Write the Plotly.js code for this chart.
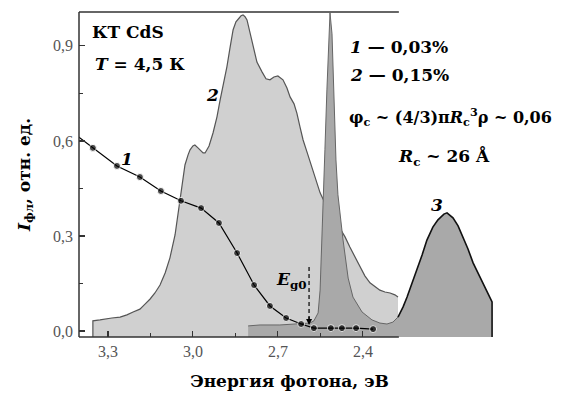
<!DOCTYPE html>
<html>
<head>
<meta charset="utf-8">
<script src="https://cdn.plot.ly/plotly-3.0.1.min.js"></script>
<style>html,body{margin:0;padding:0;background:#fff;}#chart{width:563px;height:396px;}</style>
</head>
<body>
<div id="chart"></div>
<script>
// ---- Data (photon energy, eV ; intensity, arb. units) ----
// Curve 1: 0.03% sample (points)
const energy1 = [3.45, 3.353, 3.268, 3.187, 3.113, 3.042, 2.971, 2.908, 2.844, 2.784, 2.728, 2.671, 2.618, 2.573, 2.513, 2.474, 2.424, 2.364];
const intensity1 = [0.644, 0.578, 0.521, 0.486, 0.442, 0.411, 0.388, 0.341, 0.246, 0.145, 0.079, 0.041, 0.022, 0.009, 0.009, 0.009, 0.009, 0.006];

// Curve 2: 0.15% sample (light filled spectrum)
const energy2 = [3.353, 3.328, 3.310, 3.286, 3.257, 3.233, 3.211, 3.187, 3.169, 3.151, 3.134, 3.116, 3.098, 3.081, 3.063, 3.046, 3.035, 3.028, 3.017, 3.010, 3.000, 2.993, 2.982, 2.975, 2.964, 2.957, 2.943, 2.929, 2.915, 2.904, 2.890, 2.880, 2.869, 2.858, 2.848, 2.841, 2.830, 2.823, 2.816, 2.809, 2.798, 2.788, 2.774, 2.756, 2.742, 2.728, 2.714, 2.700, 2.682, 2.668, 2.657, 2.643, 2.633, 2.622, 2.611, 2.594, 2.580, 2.565, 2.551, 2.534, 2.516, 2.498, 2.481, 2.463, 2.446, 2.428, 2.410, 2.393, 2.375, 2.357, 2.340, 2.322, 2.304, 2.287, 2.276];
const intensity2 = [0.032, 0.035, 0.038, 0.041, 0.044, 0.051, 0.060, 0.069, 0.085, 0.101, 0.120, 0.145, 0.183, 0.231, 0.303, 0.414, 0.483, 0.524, 0.556, 0.572, 0.584, 0.587, 0.578, 0.572, 0.562, 0.562, 0.584, 0.625, 0.676, 0.729, 0.786, 0.834, 0.894, 0.951, 0.976, 0.985, 0.995, 0.998, 0.992, 0.982, 0.941, 0.894, 0.849, 0.818, 0.796, 0.793, 0.802, 0.805, 0.793, 0.767, 0.739, 0.717, 0.688, 0.644, 0.603, 0.556, 0.515, 0.477, 0.436, 0.404, 0.376, 0.351, 0.325, 0.297, 0.265, 0.234, 0.202, 0.174, 0.152, 0.139, 0.129, 0.123, 0.120, 0.114, 0.107];

// Narrow dark peak with its tail
const energyPeak = [2.805, 2.763, 2.693, 2.622, 2.587, 2.573, 2.558, 2.551, 2.544, 2.541, 2.534, 2.527, 2.516, 2.509, 2.502, 2.495, 2.488, 2.481, 2.470, 2.452, 2.435, 2.403, 2.368, 2.340, 2.315, 2.294, 2.276];
const intensityPeak = [0.016, 0.019, 0.019, 0.022, 0.025, 0.032, 0.057, 0.129, 0.287, 0.414, 0.572, 0.761, 1.004, 0.938, 0.698, 0.540, 0.430, 0.366, 0.287, 0.167, 0.107, 0.060, 0.035, 0.025, 0.022, 0.028, 0.044];

// Curve 3
const energy3 = [2.276, 2.258, 2.244, 2.227, 2.209, 2.191, 2.174, 2.153, 2.135, 2.114, 2.103, 2.093, 2.082, 2.064, 2.047, 2.029, 2.011, 1.993, 1.976, 1.958, 1.944];
const intensity3 = [0.044, 0.076, 0.107, 0.148, 0.193, 0.240, 0.287, 0.328, 0.351, 0.369, 0.373, 0.366, 0.357, 0.332, 0.297, 0.259, 0.215, 0.183, 0.152, 0.117, 0.092];

// Axis ticks
const xTickVals = [3.3, 3.0, 2.7, 2.4];
const xMinorVals = [3.15, 2.85, 2.55];
const yTickVals = [0, 0.3, 0.6, 0.9];
const yMinorVals = [0.15, 0.45, 0.75];

// Axis ranges / frame
const X_RANGE = [3.402, 1.916];
const X_FRAME_END = 2.273;
const Y_RANGE = [-0.019, 1.007];
const Y_MIN = Y_RANGE[0];

// Marker: edge point (outside) without marker
const marker1Size = energy1.map((e) => e > X_RANGE[0] ? 0 : 7);

function closed(xs, ys) {
  return {x: [xs[0]].concat(xs, [xs[xs.length - 1]]), y: [Y_MIN].concat(ys, [Y_MIN])};
}

const SERIF = '"DejaVu Serif", "Liberation Serif", serif';
const LIGHT = '#d0d0d0', DARK = '#a9a9a9';

const f2 = closed(energy2, intensity2);
const darkX = energyPeak.concat(energy3.slice(1));
const darkY = intensityPeak.concat(intensity3.slice(1));
const fd = closed(darkX, darkY);

const traces = [
  {x: f2.x, y: f2.y, type: 'scatter', mode: 'lines', fill: 'toself', fillcolor: LIGHT, line: {width: 0}, hoverinfo: 'skip'},
  {x: [energy2[0]].concat(energy2), y: [Y_MIN].concat(intensity2), type: 'scatter', mode: 'lines', line: {color: '#555', width: 1.2}},
  {x: fd.x, y: fd.y, type: 'scatter', mode: 'lines', fill: 'toself', fillcolor: DARK, line: {width: 0}, hoverinfo: 'skip'},
  {x: energyPeak, y: intensityPeak, type: 'scatter', mode: 'lines', line: {color: '#666', width: 1}},
  {x: energy3.concat([energy3[energy3.length - 1]]), y: intensity3.concat([Y_MIN]), type: 'scatter', mode: 'lines', line: {color: '#111', width: 1.6}},
  {x: energy1, y: intensity1, type: 'scatter', mode: 'lines+markers', line: {color: '#000', width: 1.2}, marker: {color: '#000', size: marker1Size}}
];

const ann = (x, y, text, opts) => Object.assign({xref: 'paper', yref: 'paper', x: x, y: y, text: text, showarrow: false,
  xanchor: 'center', yanchor: 'middle',
  font: {family: SERIF, size: 17, color: '#000', weight: 'bold'}}, opts || {});

const layout = {
  width: 563, height: 396,
  margin: {l: 79, r: 63, t: 12, b: 59},
  paper_bgcolor: '#fff', plot_bgcolor: '#fff',
  showlegend: false,
  separators: ', ',
  xaxis: {
    range: X_RANGE, showgrid: false, zeroline: false, showline: false,
    tickvals: xTickVals, tickformat: '.1f', ticks: 'inside', ticklen: 6, tickwidth: 1.2, tickcolor: '#333',
    minor: {tickvals: xMinorVals, ticks: 'inside', ticklen: 4, tickcolor: '#333'},
    tickfont: {family: '"Liberation Serif", serif', size: 16, color: '#555'},
    ticklabelstandoff: 3,
    title: {text: 'Энергия фотона, эВ', standoff: 16, font: {family: SERIF, size: 17, color: '#000', weight: 'bold'}},
    automargin: false
  },
  yaxis: {
    range: Y_RANGE, showgrid: false, zeroline: false, showline: false,
    tickvals: yTickVals, tickformat: '.1f', ticks: 'inside', ticklen: 6, tickwidth: 1.2, tickcolor: '#333',
    minor: {tickvals: yMinorVals, ticks: 'inside', ticklen: 4, tickcolor: '#333'},
    tickfont: {family: '"Liberation Serif", serif', size: 16, color: '#555'},
    ticklabelstandoff: 5,
    title: {text: '<i>I</i><sub>фл</sub>, отн. ед.', standoff: 18, font: {family: SERIF, size: 17, color: '#000', weight: 'bold'}},
    automargin: false
  },
  shapes: [
    {type: 'line', xref: 'paper', yref: 'paper', x0: 0, x1: 0, y0: 0, y1: 1, line: {color: '#333', width: 1.5}},
    {type: 'line', xref: 'x', yref: 'paper', x0: X_RANGE[0], x1: X_FRAME_END, y0: 0, y1: 0, line: {color: '#333', width: 1.5}},
    {type: 'line', xref: 'x', yref: 'paper', x0: X_RANGE[0], x1: X_FRAME_END, y0: 1, y1: 1, line: {color: '#333', width: 1.5}},
    {type: 'line', xref: 'x', yref: 'y', x0: 2.590, x1: 2.590, y0: 0.202, y1: 0.035, line: {color: '#000', width: 1.2, dash: '4px,3px'}}
  ],
  annotations: [
    ann(0.026, 0.938, 'КТ CdS', {xanchor: 'left'}),
    ann(0.033, 0.840, '<i>T</i> = 4,5 К', {xanchor: 'left'}),
    ann(0.316, 0.745, '<i>2</i>'),
    ann(0.114, 0.548, '<i>1</i>'),
    ann(0.639, 0.892, '<i>1</i> — 0,03%', {xanchor: 'left'}),
    ann(0.639, 0.806, '<i>2</i> — 0,15%', {xanchor: 'left'}),
    ann(0.637, 0.677, 'φ<sub>c</sub> ~ (4/3)π<i>R</i><sub>c</sub><sup>3</sup>ρ ~ 0,06', {xanchor: 'left', font: {family: SERIF, size: 16, color: '#000', weight: 'bold'}}),
    ann(0.867, 0.554, '<i>R</i><sub>c</sub> ~ 26 Å'),
    ann(0.850, 0.406, '<i>3</i>'),
    ann(0.504, 0.175, '<i>E</i><sub>g0</sub>'),
    {xref: 'x', yref: 'y', axref: 'x', ayref: 'y', x: 2.590, y: 0.019, ax: 2.590, ay: 0.05, text: '', showarrow: true,
     arrowhead: 2, arrowsize: 1, arrowwidth: 1.2, arrowcolor: '#000', standoff: 0}
  ]
};

Plotly.newPlot('chart', traces, layout, {staticPlot: true, displayModeBar: false});
</script>
</body>
</html>
